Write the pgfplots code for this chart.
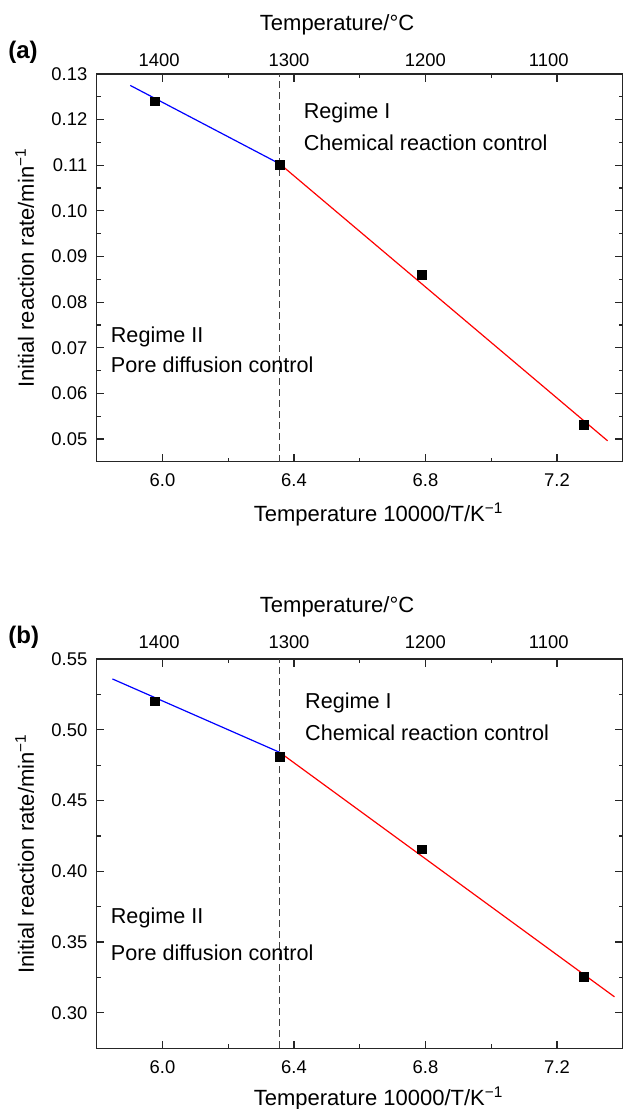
\documentclass[border=0pt]{standalone}
\usepackage{fontspec}
\setmainfont{Liberation Sans}
\usepackage{pgfplots}
\pgfplotsset{compat=1.18}

\pgfplotsset{
  panel/.style={
    scale only axis, width=263pt, anchor=north west,
    xmin=5.8, xmax=7.4,
    xtick={6.0,6.4,6.8,7.2}, xticklabels={6.0,6.4,6.8,7.2},
    minor x tick num=1, minor y tick num=1,
    axis line style={black!85, line width=0.7pt},
    every tick/.style={black!85, line width=0.6pt},
    major tick length=3.8pt, minor tick length=2pt,
    tick align=inside,
    tick label style={font=\fontsize{9.2}{10}\selectfont},
    label style={font=\fontsize{11}{13}\selectfont},
    yticklabel style={anchor=east, inner sep=0pt, xshift=-4.5pt},
    ylabel={Initial reaction rate/min\textsuperscript{−1}},
    ylabel style={at={(axis description cs:-0.137,0.5)}, anchor=center},
    xlabel={Temperature 10000/T/K\textsuperscript{−1}},
    clip=false,
  },
  toptemp/.style={
    scale only axis, width=263pt, anchor=north west,
    xmin=5.8, xmax=7.4, ymin=0, ymax=1,
    xticklabel pos=right, ytick=\empty,
    axis line style={draw=none}, tick style={draw=none},
    xtick={5.99,6.385,6.80,7.175}, xticklabels={1400,1300,1200,1100},
    tick label style={font=\fontsize{9.2}{10}\selectfont},
    label style={font=\fontsize{11}{13}\selectfont},
    xlabel={Temperature/°C},
  },
  fitblue/.style={blue, line width=0.6pt},
  fitred/.style={red, line width=0.6pt},
  pts/.style={only marks, mark=square*, mark size=2.2pt, black},
  vline/.style={black!75, line width=0.65pt, dash pattern=on 3.5pt off 2pt},
}
\tikzset{
  txt/.style={anchor=west, inner sep=0pt, font=\fontsize{10.8}{12}\selectfont},
  tag/.style={anchor=west, inner sep=0pt, font=\fontsize{12}{14}\bfseries\selectfont},
}

\begin{document}
\begin{tikzpicture}
\useasboundingbox (-48.35pt,-517.5pt) rectangle (263.65pt,37pt);

% (a)
\begin{axis}[panel, at={(0pt,0pt)}, height=193.9pt,
  ymin=0.045, ymax=0.13,
  ytick={0.05,0.06,0.07,0.08,0.09,0.10,0.11,0.12,0.13},
  yticklabels={0.05,0.06,0.07,0.08,0.09,0.10,0.11,0.12,0.13},
  xticklabel style={anchor=center, yshift=-9pt},
  xlabel style={at={(axis description cs:0.536,-0.137)}, anchor=center},
]
\addplot[vline] coordinates {(6.357,0.045) (6.357,0.13)};
\addplot[fitblue] coordinates {(5.902,0.1275) (6.357,0.1103)};
\addplot[fitred] coordinates {(6.357,0.1103) (7.354,0.0496)};
\addplot[pts] coordinates {
  (5.977,0.1240)
  (6.357,0.1100)
  (6.788,0.0859)
  (7.283,0.0531)
};
\node[txt] at (axis cs:6.429,0.1214) {Regime I};
\node[txt] at (axis cs:6.429,0.1149) {Chemical reaction control};
\node[txt] at (axis cs:5.842,0.0724) {Regime II};
\node[txt] at (axis cs:5.842,0.0662) {Pore diffusion control};
\node[tag, xshift=-44.35pt, yshift=11pt] at (axis description cs:0,1) {(a)};
\end{axis}
\begin{axis}[toptemp, at={(0pt,0pt)}, height=193.9pt,
  xticklabel style={anchor=center, yshift=7pt},
  xlabel style={at={(axis description cs:0.457,1.126)}, anchor=center},
]
\end{axis}

% (b)
\begin{axis}[panel, at={(0pt,-292.5pt)}, height=194.6pt,
  ymin=0.275, ymax=0.55,
  ytick={0.30,0.35,0.40,0.45,0.50,0.55},
  yticklabels={0.30,0.35,0.40,0.45,0.50,0.55},
  xticklabel style={anchor=center, yshift=-9.3pt},
  xlabel style={at={(axis description cs:0.536,-0.1285)}, anchor=center},
]
\addplot[vline] coordinates {(6.357,0.275) (6.357,0.55)};
\addplot[fitblue] coordinates {(5.848,0.5359) (6.357,0.4840)};
\addplot[fitred] coordinates {(6.357,0.4840) (7.375,0.3113)};
\addplot[pts] coordinates {
  (5.977,0.5200)
  (6.357,0.4810)
  (6.788,0.4155)
  (7.283,0.3254)
};
\node[txt] at (axis cs:6.433,0.5188) {Regime I};
\node[txt] at (axis cs:6.433,0.4977) {Chemical reaction control};
\node[txt] at (axis cs:5.842,0.3669) {Regime II};
\node[txt] at (axis cs:5.842,0.3423) {Pore diffusion control};
\node[tag, xshift=-44.35pt, yshift=11pt] at (axis description cs:0,1) {(b)};
\end{axis}
\begin{axis}[toptemp, at={(0pt,-292.5pt)}, height=194.6pt,
  xticklabel style={anchor=center, yshift=8.5pt},
  xlabel style={at={(axis description cs:0.457,1.134)}, anchor=center},
]
\end{axis}
\end{tikzpicture}
\end{document}
